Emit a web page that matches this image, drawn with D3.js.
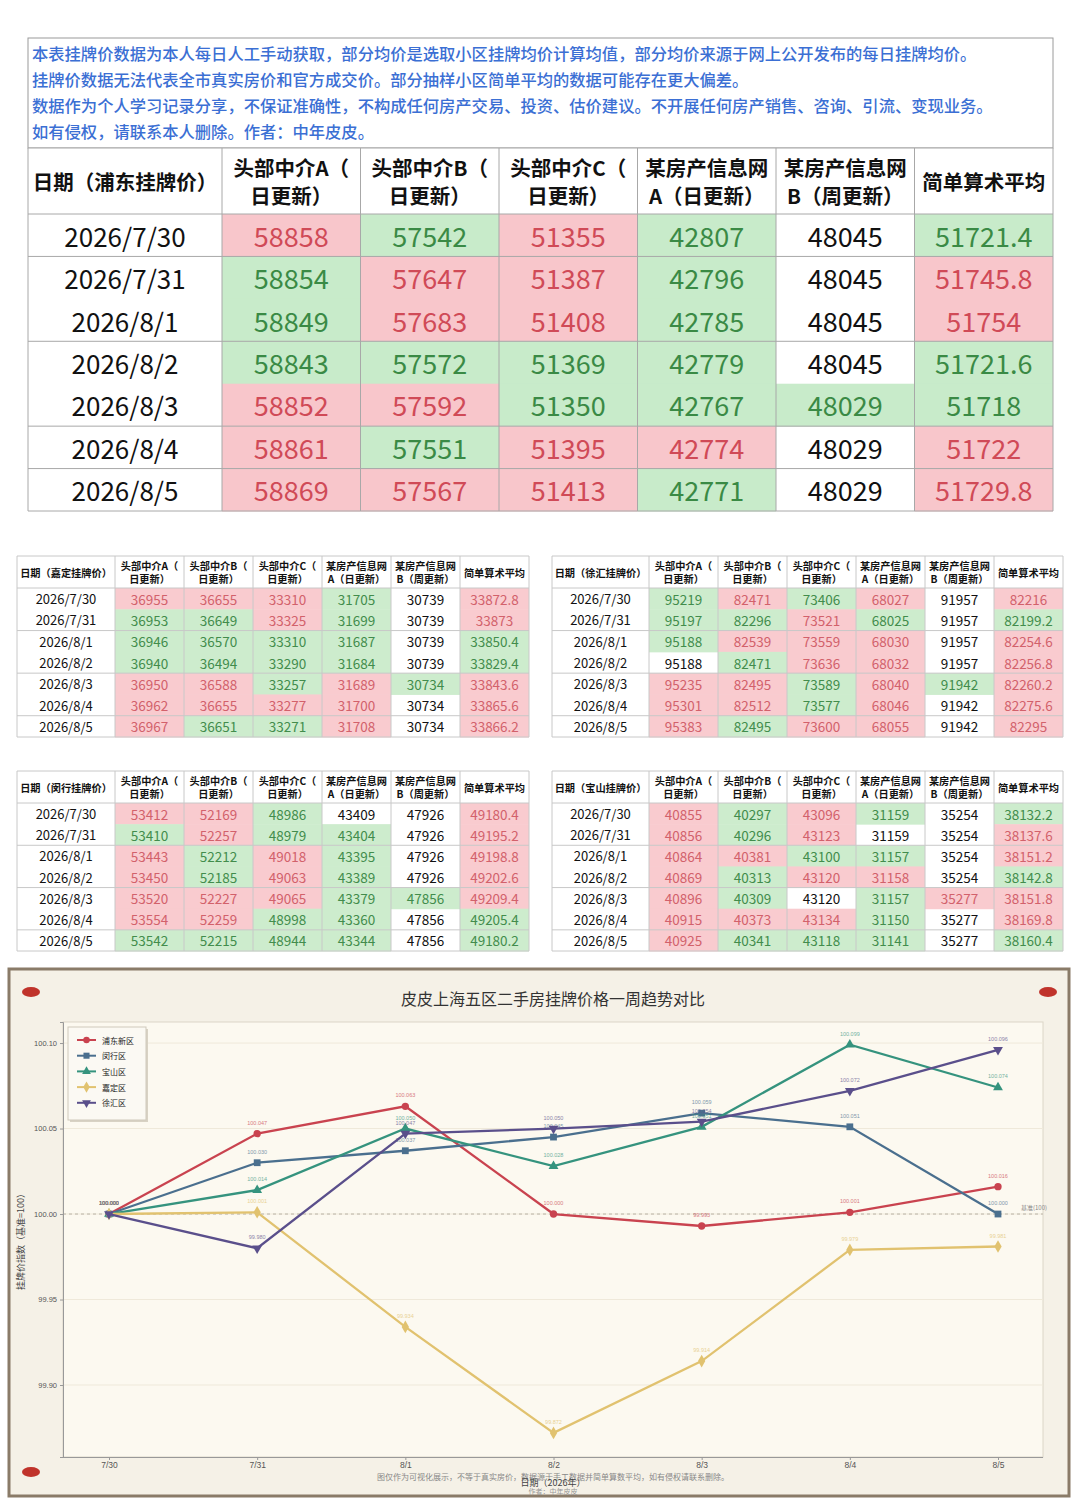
<!DOCTYPE html>
<html>
<head>
<meta charset="utf-8">
<script src="https://cdn.jsdelivr.net/npm/d3@7"></script>
<style>
  body { margin: 0; background: #fff; }
  svg { display: block; font-family: "Noto Sans CJK SC", "Noto Sans", sans-serif; }
</style>
</head>
<body>
<script>
var W = 1080, H = 1501;

// ---- data ----
var dates = ["2026/7/30", "2026/7/31", "2026/8/1", "2026/8/2", "2026/8/3", "2026/8/4", "2026/8/5"];
var days = ["7/30", "7/31", "8/1", "8/2", "8/3", "8/4", "8/5"];
var colHeads = [["头部中介A（", "日更新）"], ["头部中介B（", "日更新）"], ["头部中介C（", "日更新）"],
                ["某房产信息网", "A（日更新）"], ["某房产信息网", "B（周更新）"], ["简单算术平均"]];
var notes = [
  "本表挂牌价数据为本人每日人工手动获取，部分均价是选取小区挂牌均价计算均值，部分均价来源于网上公开发布的每日挂牌均价。",
  "挂牌价数据无法代表全市真实房价和官方成交价。部分抽样小区简单平均的数据可能存在更大偏差。",
  "数据作为个人学习记录分享，不保证准确性，不构成任何房产交易、投资、估价建议。不开展任何房产销售、咨询、引流、变现业务。",
  "如有侵权，请联系本人删除。作者：中年皮皮。"
];

var pudongA = [58858, 58854, 58849, 58843, 58852, 58861, 58869];
var pudongB = [57542, 57647, 57683, 57572, 57592, 57551, 57567];
var pudongC = [51355, 51387, 51408, 51369, 51350, 51395, 51413];
var pudongD = [42807, 42796, 42785, 42779, 42767, 42774, 42771];
var pudongE = [48045, 48045, 48045, 48045, 48029, 48029, 48029];
var pudongAvg = [51721.4, 51745.8, 51754, 51721.6, 51718, 51722, 51729.8];
var pudongFirst = [1, -1, 1, -1, 0, -1];

var jiadingA = [36955, 36953, 36946, 36940, 36950, 36962, 36967];
var jiadingB = [36655, 36649, 36570, 36494, 36588, 36655, 36651];
var jiadingC = [33310, 33325, 33310, 33290, 33257, 33277, 33271];
var jiadingD = [31705, 31699, 31687, 31684, 31689, 31700, 31708];
var jiadingE = [30739, 30739, 30739, 30739, 30734, 30734, 30734];
var jiadingAvg = [33872.8, 33873, 33850.4, 33829.4, 33843.6, 33865.6, 33866.2];
var jiadingFirst = [1, 1, 1, -1, 0, 1];

var xuhuiA = [95219, 95197, 95188, 95188, 95235, 95301, 95383];
var xuhuiB = [82471, 82296, 82539, 82471, 82495, 82512, 82495];
var xuhuiC = [73406, 73521, 73559, 73636, 73589, 73577, 73600];
var xuhuiD = [68027, 68025, 68030, 68032, 68040, 68046, 68055];
var xuhuiE = [91957, 91957, 91957, 91957, 91942, 91942, 91942];
var xuhuiAvg = [82216, 82199.2, 82254.6, 82256.8, 82260.2, 82275.6, 82295];
var xuhuiFirst = [-1, 1, -1, 1, 0, 1];

var minhangA = [53412, 53410, 53443, 53450, 53520, 53554, 53542];
var minhangB = [52169, 52257, 52212, 52185, 52227, 52259, 52215];
var minhangC = [48986, 48979, 49018, 49063, 49065, 48998, 48944];
var minhangD = [43409, 43404, 43395, 43389, 43379, 43360, 43344];
var minhangE = [47926, 47926, 47926, 47926, 47856, 47856, 47856];
var minhangAvg = [49180.4, 49195.2, 49198.8, 49202.6, 49209.4, 49205.4, 49180.2];
var minhangFirst = [1, 1, -1, 0, 0, 1];

var baoshanA = [40855, 40856, 40864, 40869, 40896, 40915, 40925];
var baoshanB = [40297, 40296, 40381, 40313, 40309, 40373, 40341];
var baoshanC = [43096, 43123, 43100, 43120, 43120, 43134, 43118];
var baoshanD = [31159, 31159, 31157, 31158, 31157, 31150, 31141];
var baoshanE = [35254, 35254, 35254, 35254, 35277, 35277, 35277];
var baoshanAvg = [38132.2, 38137.6, 38151.2, 38142.8, 38151.8, 38169.8, 38160.4];
var baoshanFirst = [1, -1, 1, -1, 0, -1];

// weekly index (7/30 = 100)
var pudongIdx = [100.000, 100.047, 100.063, 100.000, 99.993, 100.001, 100.016];
var minhangIdx = [100.000, 100.030, 100.037, 100.045, 100.059, 100.051, 100.000];
var baoshanIdx = [100.000, 100.014, 100.050, 100.028, 100.051, 100.099, 100.074];
var jiadingIdx = [100.000, 100.001, 99.934, 99.872, 99.914, 99.979, 99.981];
var xuhuiIdx = [100.000, 99.980, 100.047, 100.050, 100.054, 100.072, 100.096];
var seriesNames = ["浦东新区", "闵行区", "宝山区", "嘉定区", "徐汇区"];
var yTicks = [99.90, 99.95, 100.00, 100.05, 100.10];

// ---- drawing ----
var svg = d3.select("body").append("svg").attr("width", W).attr("height", H);

// note box
svg.append("rect").attr("x", 28).attr("y", 38).attr("width", 1025).attr("height", 110)
  .attr("fill", "#fff").attr("stroke", "#9a9a9a");
svg.selectAll("text.note").data(notes).enter().append("text")
  .attr("class", "note")
  .attr("x", 32)
  .attr("y", function (d, i) { return 60 + i * 26; })
  .attr("fill", "#3b6fd4").attr("font-size", 16.3).attr("font-weight", 500)
  .text(function (d) { return d; });

function drawTable(o) {
  var g = svg.append("g");
  var cols = o.cols;
  var x = d3.scaleBand().domain(d3.range(cols.length)).range([o.x1, o.right]);
  var y = d3.scaleBand().domain(d3.range(dates.length)).range([o.headBottom, o.bottom]);

  function state(j, i) {
    if (i === 0) return o.first[j];
    var d = cols[j][i] - cols[j][i - 1];
    return d > 0 ? 1 : (d < 0 ? -1 : 0);
  }
  var cells = [];
  cols.forEach(function (c, j) {
    c.forEach(function (v, i) { cells.push({ j: j, i: i, v: v, s: state(j, i) }); });
  });

  g.append("rect").attr("x", o.x0).attr("y", o.top)
    .attr("width", o.right - o.x0).attr("height", o.bottom - o.top)
    .attr("fill", "#fff");

  g.selectAll("rect.cell").data(cells.filter(function (d) { return d.s !== 0; })).enter()
    .append("rect").attr("class", "cell")
    .attr("x", function (d) { return x(d.j); })
    .attr("y", function (d) { return y(d.i); })
    .attr("width", x.bandwidth())
    .attr("height", y.bandwidth() + 0.5)
    .attr("fill", function (d) { return d.s > 0 ? o.redFill : o.greenFill; });

  // grid lines
  var vx = [o.x0, o.x1].concat(d3.range(1, cols.length).map(function (j) { return x(j); })).concat([o.right]);
  g.selectAll("line.v").data(vx).enter().append("line")
    .attr("x1", function (d) { return d; }).attr("x2", function (d) { return d; })
    .attr("y1", o.top).attr("y2", o.bottom)
    .attr("stroke", o.line).attr("stroke-width", 1);
  var hy = [o.top, o.headBottom].concat(o.rowLines.map(function (r) { return y(r) + y.bandwidth(); })).concat([o.bottom]);
  g.selectAll("line.h").data(hy).enter().append("line")
    .attr("x1", o.x0).attr("x2", o.right)
    .attr("y1", function (d) { return d; }).attr("y2", function (d) { return d; })
    .attr("stroke", o.line).attr("stroke-width", 1);

  // headers
  var hc = (o.top + o.headBottom) / 2;
  g.append("text").attr("x", (o.x0 + o.x1) / 2).attr("y", hc)
    .attr("text-anchor", "middle").attr("dominant-baseline", "central")
    .attr("font-size", o.headSize).attr("font-weight", "bold").attr("fill", "#111")
    .text(o.title);
  colHeads.forEach(function (h, j) {
    var t = g.append("text").attr("text-anchor", "middle")
      .attr("font-size", o.headSize).attr("font-weight", "bold").attr("fill", "#111");
    h.forEach(function (line, k) {
      t.append("tspan").attr("x", x(j) + x.bandwidth() / 2)
        .attr("y", hc + (k - (h.length - 1) / 2) * o.headSize * 1.32)
        .attr("dominant-baseline", "central")
        .text(line);
    });
  });

  // dates
  g.selectAll("text.date").data(dates).enter().append("text")
    .attr("x", (o.x0 + o.x1) / 2)
    .attr("y", function (d, i) { return y(i) + y.bandwidth() / 2; })
    .attr("text-anchor", "middle").attr("dominant-baseline", "central")
    .attr("font-size", o.dateSize).attr("fill", "#111")
    .text(function (d) { return d; });

  g.selectAll("text.val").data(cells).enter().append("text")
    .attr("x", function (d) { return x(d.j) + x.bandwidth() / 2; })
    .attr("y", function (d) { return y(d.i) + y.bandwidth() / 2; })
    .attr("text-anchor", "middle").attr("dominant-baseline", "central")
    .attr("font-size", o.valSize)
    .attr("fill", function (d) { return d.s > 0 ? o.redText : (d.s < 0 ? o.greenText : "#111"); })
    .text(function (d) { return String(d.v); });
}

var bigStyle = { redFill: "#f8c6cb", greenFill: "#c8ebca", redText: "#d04a57", greenText: "#3a8a45", line: "#a8a8a8" };
var smallStyle = { redFill: "#f9cbcf", greenFill: "#cdeccd", redText: "#d2616b", greenText: "#428c4c", line: "#c8c8c8" };

drawTable(Object.assign({
  title: "日期（浦东挂牌价）", x0: 28, x1: 222, right: 1053, top: 148, headBottom: 214, bottom: 511,
  cols: [pudongA, pudongB, pudongC, pudongD, pudongE, pudongAvg], first: pudongFirst,
  rowLines: [0, 2, 4, 5], headSize: 20.5, dateSize: 26, valSize: 27
}, bigStyle));

var smallSize = { headSize: 10.2, dateSize: 13, valSize: 13.5, rowLines: [1, 3, 5] };
drawTable(Object.assign({
  title: "日期（嘉定挂牌价）", x0: 17, x1: 115, right: 529, top: 556, headBottom: 588, bottom: 737,
  cols: [jiadingA, jiadingB, jiadingC, jiadingD, jiadingE, jiadingAvg], first: jiadingFirst
}, smallStyle, smallSize));
drawTable(Object.assign({
  title: "日期（徐汇挂牌价）", x0: 552, x1: 649, right: 1063, top: 556, headBottom: 588, bottom: 737,
  cols: [xuhuiA, xuhuiB, xuhuiC, xuhuiD, xuhuiE, xuhuiAvg], first: xuhuiFirst
}, smallStyle, smallSize));
drawTable(Object.assign({
  title: "日期（闵行挂牌价）", x0: 17, x1: 115, right: 529, top: 771, headBottom: 803, bottom: 951,
  cols: [minhangA, minhangB, minhangC, minhangD, minhangE, minhangAvg], first: minhangFirst
}, smallStyle, smallSize));
drawTable(Object.assign({
  title: "日期（宝山挂牌价）", x0: 552, x1: 649, right: 1063, top: 771, headBottom: 803, bottom: 951,
  cols: [baoshanA, baoshanB, baoshanC, baoshanD, baoshanE, baoshanAvg], first: baoshanFirst
}, smallStyle, smallSize));

// ---- trend chart ----
var frame = svg.append("g");
frame.append("rect").attr("x", 9).attr("y", 969).attr("width", 1060).attr("height", 527)
  .attr("fill", "#f5f1e7").attr("stroke", "#8a7b68").attr("stroke-width", 3);
[[31, 992], [1048, 992], [31, 1472]].forEach(function (p) {
  frame.append("ellipse").attr("cx", p[0]).attr("cy", p[1]).attr("rx", 9).attr("ry", 5).attr("fill", "#c0332b");
});
frame.append("text").attr("x", 553).attr("y", 1005).attr("text-anchor", "middle")
  .attr("font-size", 16).attr("fill", "#333").text("皮皮上海五区二手房挂牌价格一周趋势对比");

var pl = 63, pr = 1043, pt = 1022, pb = 1457;
var xs = d3.scalePoint().domain(days).range([109, 998]);
var ys = d3.scaleLinear().domain([99.8579, 100.1123]).range([pb, pt]);

var chart = svg.append("g");
chart.append("rect").attr("x", pl).attr("y", pt).attr("width", pr - pl).attr("height", pb - pt)
  .attr("fill", "#fcf9f0").attr("stroke", "#dcd6c8");
chart.selectAll("line.grid").data(yTicks).enter().append("line")
  .attr("x1", pl).attr("x2", pr)
  .attr("y1", function (d) { return ys(d); }).attr("y2", function (d) { return ys(d); })
  .attr("stroke", "#efe9da");
chart.append("line").attr("x1", pl).attr("x2", pr).attr("y1", ys(100)).attr("y2", ys(100))
  .attr("stroke", "#b8b2a6").attr("stroke-dasharray", "3,3");
chart.append("text").attr("x", 1021).attr("y", ys(100) - 4).attr("font-size", 6)
  .attr("fill", "#888").text("基准(100)");

var yAxis = chart.append("g").attr("transform", "translate(" + pl + ",0)")
  .call(d3.axisLeft(ys).tickValues(yTicks).tickFormat(d3.format(".2f")).tickSize(3));
var xAxis = chart.append("g").attr("transform", "translate(0," + pb + ")")
  .call(d3.axisBottom(xs).tickSize(3));
xAxis.select(".domain").attr("d", "M" + pl + ",0.5H" + pr);
[yAxis, xAxis].forEach(function (a) {
  a.selectAll("path, line").attr("stroke", "#999");
  a.selectAll("text").attr("fill", "#555").attr("font-size", 7.5)
    .attr("font-family", "'Liberation Sans', sans-serif");
});
xAxis.selectAll("text").attr("font-size", 8.5).attr("dy", "0.6em");

chart.append("text").attr("transform", "translate(24," + ((pt + pb) / 2) + ") rotate(-90)")
  .attr("text-anchor", "middle").attr("font-size", 9).attr("fill", "#444")
  .text("挂牌价指数（基准=100）");

var series = [
  { name: seriesNames[0], vals: pudongIdx, color: "#c9434f", sym: d3.symbolCircle, size: 42 },
  { name: seriesNames[1], vals: minhangIdx, color: "#4a6f8e", sym: d3.symbolSquare, size: 46 },
  { name: seriesNames[2], vals: baoshanIdx, color: "#35937e", sym: d3.symbolTriangle, size: 42 },
  { name: seriesNames[3], vals: jiadingIdx, color: "#e1c26f", sym: d3.symbolDiamond, size: 46 },
  { name: seriesNames[4], vals: xuhuiIdx, color: "#5a4f8b", sym: d3.symbolTriangle, size: 42, flip: true }
];

var line = d3.line()
  .x(function (d, i) { return xs(days[i]); })
  .y(function (d) { return ys(d); });

series.forEach(function (s) {
  var g = chart.append("g");
  g.append("path").datum(s.vals).attr("d", line)
    .attr("fill", "none").attr("stroke", s.color).attr("stroke-width", 2.3);
  g.selectAll("path.pt").data(s.vals).enter().append("path")
    .attr("d", d3.symbol().type(s.sym).size(s.size))
    .attr("transform", function (d, i) {
      return "translate(" + xs(days[i]) + "," + ys(d) + ")" + (s.flip ? " rotate(180)" : "");
    })
    .attr("fill", s.color);
  g.selectAll("text.lbl").data(s.vals).enter().append("text")
    .attr("x", function (d, i) { return xs(days[i]); })
    .attr("y", function (d) { return ys(d) - 9; })
    .attr("text-anchor", "middle").attr("font-size", 5.5)
    .attr("font-family", "'Liberation Sans', sans-serif")
    .attr("fill", s.color).attr("opacity", 0.7)
    .text(function (d) { return d3.format(".3f")(d); });
});

// legend
var lg = chart.append("g");
lg.append("rect").attr("x", 70).attr("y", 1029).attr("width", 78).attr("height", 93).attr("fill", "#d8d2c4");
lg.append("rect").attr("x", 68).attr("y", 1027).attr("width", 78).attr("height", 93)
  .attr("fill", "#fbf9f3").attr("stroke", "#cfc9bb");
var items = lg.selectAll("g.item").data(series).enter().append("g")
  .attr("transform", function (d, i) { return "translate(0," + (1040 + i * 15.7) + ")"; });
items.append("line").attr("x1", 77).attr("x2", 96).attr("stroke", function (d) { return d.color; }).attr("stroke-width", 2);
items.append("path")
  .attr("d", function (d) { return d3.symbol().type(d.sym).size(d.size * 0.8)(); })
  .attr("transform", function (d) { return "translate(86.5,0)" + (d.flip ? " rotate(180)" : ""); })
  .attr("fill", function (d) { return d.color; });
items.append("text").attr("x", 102).attr("dominant-baseline", "central")
  .attr("font-size", 8).attr("fill", "#222").text(function (d) { return d.name; });

// footer
chart.append("text").attr("x", 553).attr("y", 1480).attr("text-anchor", "middle")
  .attr("font-size", 8).attr("fill", "#888")
  .text("图仅作为可视化展示，不等于真实房价，数据源于手工数据并简单算数平均，如有侵权请联系删除。");
chart.append("text").attr("x", 553).attr("y", 1486).attr("text-anchor", "middle")
  .attr("font-size", 9).attr("fill", "#444").text("日期（2026年）");
chart.append("text").attr("x", 553).attr("y", 1494).attr("text-anchor", "middle")
  .attr("font-size", 7).attr("fill", "#999").text("作者：中年皮皮");
</script>
</body>
</html>
